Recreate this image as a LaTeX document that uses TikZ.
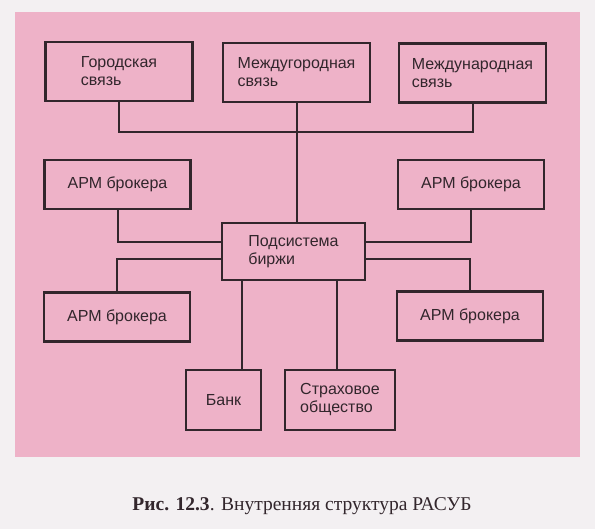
\documentclass[tikz,border=0pt]{standalone}
\usepackage{fontspec}
\setmainfont{Liberation Serif}
\setsansfont{Liberation Sans}
\usepackage{tikz}
\usetikzlibrary{calc}
\definecolor{ink}{RGB}{50,38,44}
\definecolor{sheet}{RGB}{238,178,200}
\definecolor{paper}{RGB}{243,240,242}
\tikzset{
  block_node/.style = {rectangle, draw=ink, line width=2.6pt, align=left,
    inner sep=0pt, text=ink, font=\sffamily\fontsize{16}{18}\selectfont},% блок схемы
  link_block/.style = {block_node, minimum width=147pt, minimum height=59pt},% вид связи
  arm_block/.style = {block_node, minimum width=146pt, minimum height=49pt},% АРМ брокера
  link/.style = {draw=ink, line width=2pt}% соединение
}

\begin{document}
\begin{tikzpicture}[x=1pt, y=-1pt]
  \fill [paper] (0,0) rectangle (595,529);
  \fill [sheet] (15,12) rectangle (580,457);
  \useasboundingbox (0,0) rectangle (595,529);

  \node [link_block] (gor)  at (119,71.5)   {Городская\\связь};
  \node [link_block] (mgor) at (296.5,72.5) {Междугородная\\связь};
  \node [link_block] (mnar) at (472.5,73)   {Международная\\связь};

  \node [arm_block] (arm_tl) at (117.5,184.5) {АРМ брокера};
  \node [arm_block] (arm_tr) at (471,184.5)   {АРМ брокера};
  \node [block_node, minimum width=143pt, minimum height=57pt]
      (birzha) at (293.5,251.5) {Подсистема\\биржи};
  \node [arm_block] (arm_bl) at (117,317) {АРМ брокера};
  \node [arm_block] (arm_br) at (470,316) {АРМ брокера};

  \node [block_node, minimum width=75pt, minimum height=60pt]
      (bank) at (223.5,400) {Банк};
  \node [block_node, minimum width=110pt, minimum height=60pt]
      (strah) at (340,400) {Страховое\\общество};

  % шина связи
  \coordinate (bus) at (296.5,132);
  \draw [link] (gor.south) |- (bus) -| (mnar.south);
  \draw [link] (mgor.south) -- (mgor.south |- birzha.north);

  % брокеры
  \draw [link] (arm_tl.south) |- ([yshift=9pt]birzha.west);
  \draw [link] (arm_bl.north) |- ([yshift=-8pt]birzha.west);
  \draw [link] (arm_tr.south) |- ([yshift=9pt]birzha.east);
  \draw [link] (arm_br.north) |- ([yshift=-8pt]birzha.east);

  % банк и страховое общество
  \coordinate (bank_in)  at ([xshift=-51.5pt]birzha.south);
  \coordinate (strah_in) at ([xshift=43.5pt]birzha.south);
  \draw [link] (bank_in) -- (bank_in |- bank.north);
  \draw [link] (strah_in) -- (strah_in |- strah.north);

  \node [text=ink, font=\fontsize{19.5}{22}\selectfont] (caption) at (302,506)
      {\textbf{Рис. 12.3}. Внутренняя структура РАСУБ};
\end{tikzpicture}
\end{document}
